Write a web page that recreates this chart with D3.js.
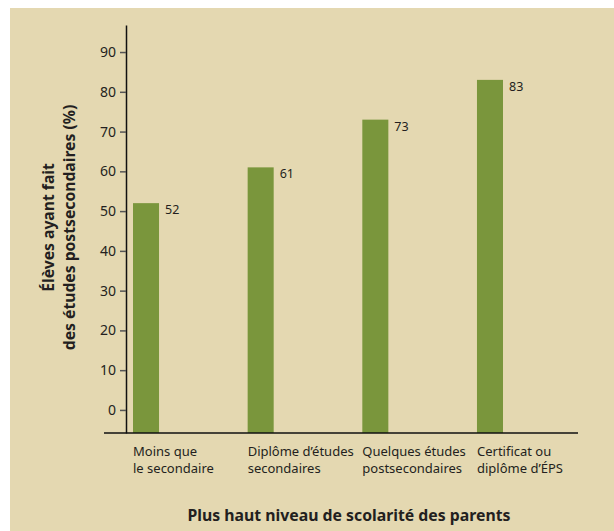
<!DOCTYPE html>
<html>
<head>
<meta charset="utf-8">
<script src="https://cdn.jsdelivr.net/npm/d3@7"></script>
<style>
  html, body { margin: 0; padding: 0; background: #ffffff; }
  svg { display: block; }
  text { font-family: "Noto Sans", "Open Sans", sans-serif; fill: #231f20; }
</style>
</head>
<body>
<svg id="chart" width="614" height="531"></svg>
<script>
// Share of students who went on to postsecondary studies, by parents' highest schooling
const categories = [
  ["Moins que", "le secondaire"],
  ["Diplôme d’études", "secondaires"],
  ["Quelques études", "postsecondaires"],
  ["Certificat ou", "diplôme d’ÉPS"]
];
const values = [52, 61, 73, 83];
const yTicks = [0, 10, 20, 30, 40, 50, 60, 70, 80, 90];
const yTitle = ["Élèves ayant fait", "des études postsecondaires (%)"];
const xTitle = "Plus haut niveau de scolarité des parents";

const W = 614, H = 531;
const svg = d3.select("#chart");

// beige panel
svg.append("rect").attr("x", 10).attr("y", 8).attr("width", W - 10).attr("height", H - 8)
  .attr("fill", "#e4d8b1");

const keys = categories.map((c, i) => i);

const x = d3.scaleBand().domain(keys).range([133, 503])
  .paddingInner(0.773).paddingOuter(0).align(0);

// the value axis sits above the baseline; bars run down to the baseline
const y = d3.scaleLinear().domain([-5.8, 96.8]).range([433, 25]);
const axisX = 126;

// bars
svg.append("g").selectAll("rect").data(values).join("rect")
  .attr("x", (d, i) => x(i))
  .attr("y", d => y(d))
  .attr("width", x.bandwidth())
  .attr("height", d => y.range()[0] - y(d))
  .attr("fill", "#7a963c");

// value labels
svg.append("g").selectAll("text").data(values).join("text")
  .attr("x", (d, i) => x(i) + x.bandwidth() + 6)
  .attr("y", d => y(d) + 11)
  .attr("font-size", 12.5)
  .text(d => d);

// y axis
const yAxis = d3.axisLeft(y).tickValues(yTicks).tickSize(6).tickPadding(4).tickSizeOuter(0);
const gy = svg.append("g").attr("transform", `translate(${axisX},0)`).call(yAxis);
gy.select(".domain").attr("stroke", "#111").attr("stroke-width", 1.5);
gy.selectAll(".tick line").attr("stroke", "#555").attr("stroke-width", 1.5);
gy.selectAll(".tick text").attr("font-size", 14).attr("fill", "#231f20")
  .attr("font-family", "'Noto Sans', sans-serif");

// baseline
svg.append("line")
  .attr("x1", 104).attr("x2", 578)
  .attr("y1", y.range()[0]).attr("y2", y.range()[0])
  .attr("stroke", "#111").attr("stroke-width", 1.5);

// category labels
const cat = svg.append("g").selectAll("text").data(categories).join("text")
  .attr("x", (d, i) => x(i))
  .attr("y", 456)
  .attr("font-size", 13);
cat.selectAll("tspan").data(d => d).join("tspan")
  .attr("x", function () { return d3.select(this.parentNode).attr("x"); })
  .attr("dy", (d, j) => j === 0 ? 0 : 17)
  .text(d => d);

// axis titles
const yt = svg.append("text")
  .attr("transform", "translate(54,227.5) rotate(-90)")
  .attr("text-anchor", "middle")
  .attr("font-size", 15.7).attr("font-weight", "bold");
yt.selectAll("tspan").data(yTitle).join("tspan")
  .attr("x", 0).attr("dy", (d, j) => j === 0 ? 0 : 20.5)
  .text(d => d);

svg.append("text")
  .attr("x", 349).attr("y", 521)
  .attr("text-anchor", "middle")
  .attr("font-size", 15.8).attr("font-weight", "bold")
  .text(xTitle);
</script>
</body>
</html>
